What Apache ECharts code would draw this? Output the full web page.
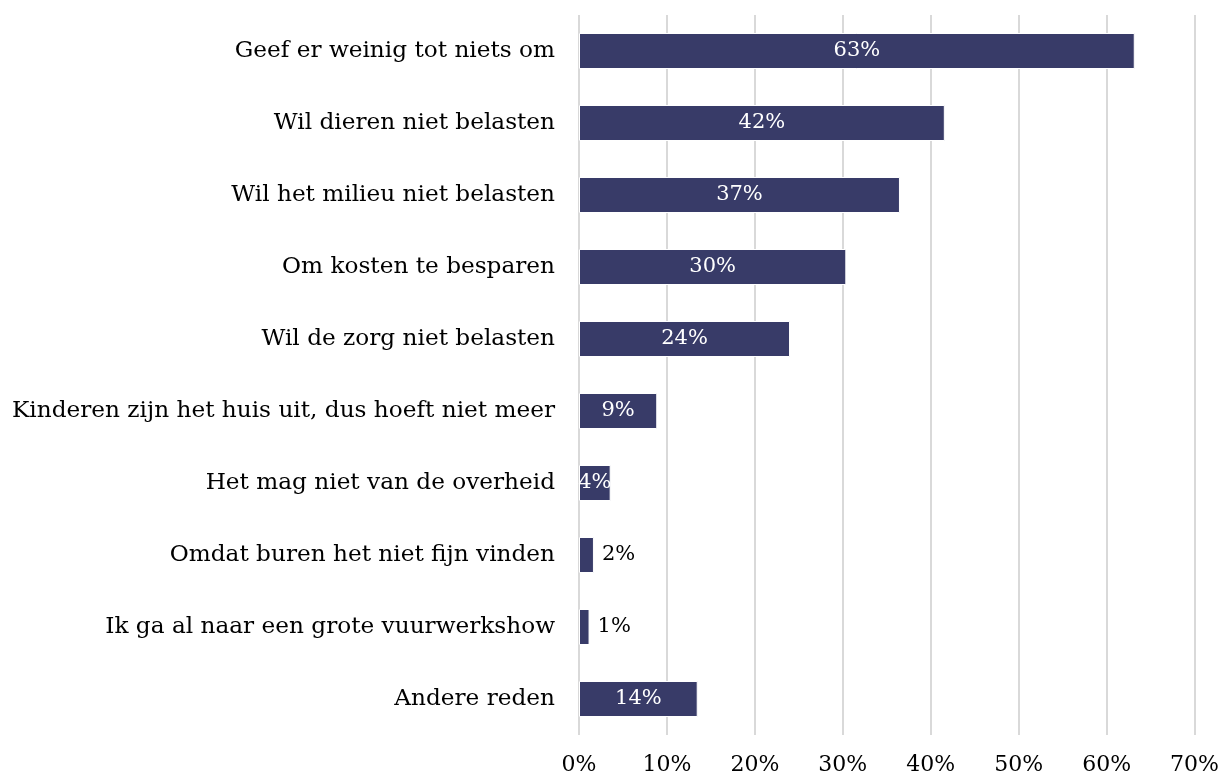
<!DOCTYPE html>
<html>
<head>
<meta charset="utf-8">
<script src="https://cdn.jsdelivr.net/npm/echarts@6/dist/echarts.min.js"></script>
<style>
html,body{margin:0;padding:0;background:#fff;}
#chart{width:1222px;height:776px;}
</style>
</head>
<body>
<div id="chart"></div>
<script>
const categories = [
  "Geef er weinig tot niets om",
  "Wil dieren niet belasten",
  "Wil het milieu niet belasten",
  "Om kosten te besparen",
  "Wil de zorg niet belasten",
  "Kinderen zijn het huis uit, dus hoeft niet meer",
  "Het mag niet van de overheid",
  "Omdat buren het niet fijn vinden",
  "Ik ga al naar een grote vuurwerkshow",
  "Andere reden"
];
const values = [63.2, 41.6, 36.5, 30.4, 24.0, 8.9, 3.6, 1.7, 1.2, 13.5];
const valueLabels = ["63%", "42%", "37%", "30%", "24%", "9%", "4%", "2%", "1%", "14%"];
const tickLabels = ["0%", "10%", "20%", "30%", "40%", "50%", "60%", "70%"];

const FONT = "DejaVu Serif";
const chart = echarts.init(document.getElementById('chart'));
chart.setOption({
  animation: false,
  grid: { left: 579, right: 27, top: 15, bottom: 41, containLabel: false },
  xAxis: {
    type: 'value', min: 0, max: 70, interval: 10,
    axisLine: { show: false }, axisTick: { show: false },
    splitLine: { show: true, lineStyle: { color: '#d9d9d9', width: 2 } },
    axisLabel: {
      color: '#000', fontFamily: FONT, fontSize: 22, margin: 19,
      formatter: (v) => tickLabels[Math.round(v / 10)]
    }
  },
  yAxis: {
    type: 'category', inverse: true, data: categories,
    axisLine: { show: false }, axisTick: { show: false },
    axisLabel: { color: '#000', fontFamily: FONT, fontSize: 23.2, margin: 24 }
  },
  series: [{
    type: 'bar',
    barWidth: 36,
    data: values.map((v, i) => ({
      value: v,
      label: v < 3 ? { position: 'right', color: '#000', distance: 8 } : { position: 'inside', color: '#fff' }
    })),
    itemStyle: { color: '#383B68', borderColor: '#fff', borderWidth: 1 },
    label: {
      show: true, fontFamily: FONT, fontSize: 21,
      formatter: (p) => valueLabels[p.dataIndex]
    }
  }]
});
</script>
</body>
</html>
